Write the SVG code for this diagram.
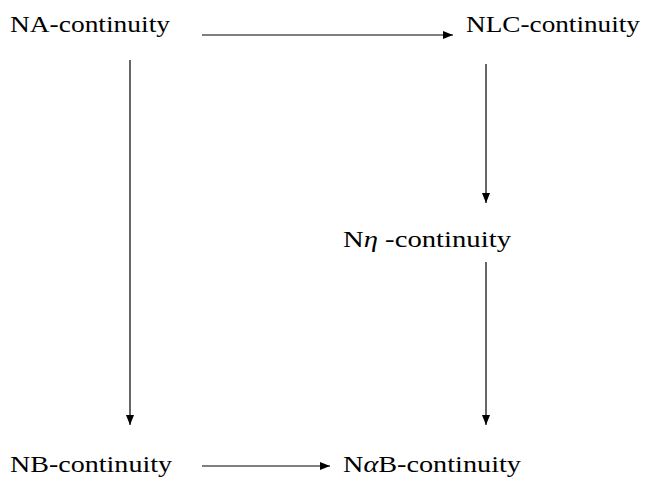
<svg xmlns="http://www.w3.org/2000/svg" width="648" height="479" viewBox="0 0 648 479">
<style>
text{font-family:"Liberation Serif","DejaVu Serif",serif;font-size:24px;fill:#000}
.c line{stroke:#000;stroke-width:1.2}
</style>
<defs>
<marker id="ah" viewBox="0 0 10 10" refX="10" refY="5" markerWidth="10" markerHeight="10" markerUnits="userSpaceOnUse" orient="auto">
<path d="M0,1 L10,5 L0,9 Z" fill="#000"/>
</marker>
</defs>
<rect width="648" height="479" fill="#fff"/>
<g class="c" id="connectors">
<line x1="202" y1="35" x2="453" y2="35" marker-end="url(#ah)"/>
<line x1="130" y1="60" x2="130" y2="425" marker-end="url(#ah)"/>
<line x1="486" y1="64" x2="486" y2="203" marker-end="url(#ah)"/>
<line x1="486" y1="262" x2="486" y2="425" marker-end="url(#ah)"/>
<line x1="202" y1="466" x2="330" y2="466" marker-end="url(#ah)"/>
</g>
<g id="na"><text x="10" y="32" textLength="160" lengthAdjust="spacingAndGlyphs">NA-continuity</text></g>
<g id="nlc"><text x="466" y="32" textLength="174" lengthAdjust="spacingAndGlyphs">NLC-continuity</text></g>
<g id="neta"><text x="343" y="247" textLength="168" lengthAdjust="spacingAndGlyphs">N<tspan font-style="italic">η</tspan> -continuity</text></g>
<g id="nb"><text x="10" y="472" textLength="162" lengthAdjust="spacingAndGlyphs">NB-continuity</text></g>
<g id="nab"><text x="343" y="472" textLength="178" lengthAdjust="spacingAndGlyphs">N<tspan font-style="italic">α</tspan>B-continuity</text></g>
</svg>
